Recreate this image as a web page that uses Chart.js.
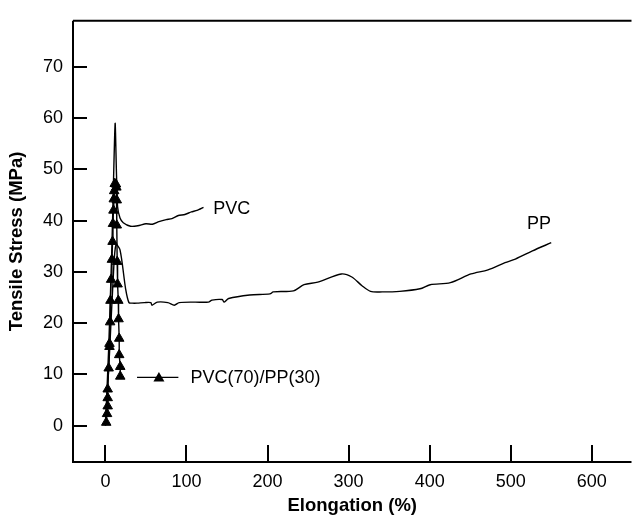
<!DOCTYPE html>
<html>
<head>
<meta charset="utf-8">
<script src="https://cdn.jsdelivr.net/npm/chart.js@4/dist/chart.umd.min.js"></script>
<style>
  html, body { margin: 0; padding: 0; background: #fff; }
  #wrap { width: 638px; height: 515px; }
</style>
</head>
<body>
<div id="wrap"><canvas id="stress"></canvas></div>
<script>
const xTicks = [0, 100, 200, 300, 400, 500, 600];
const yTicks = [0, 10, 20, 30, 40, 50, 60, 70];

// PVC: sharp yield peak then flat draw
const pvcX = [0, 4, 8, 10, 12, 13.5, 15, 18, 22, 31, 40, 50, 58, 66, 75, 82, 90, 98, 106, 113, 121];
const pvcY = [0, 15, 35, 48, 59, 50, 42.7, 40.5, 39.6, 38.9, 39.0, 39.4, 39.3, 39.8, 40.2, 40.4, 41.0, 41.2, 41.7, 42.0, 42.6];

// PP: broad yield then long necking plateau
const ppX = [0, 5, 10, 13, 18, 25, 29, 33, 39, 48, 56, 57.5, 64, 77, 85, 91, 110, 127, 131.5, 144, 146.5, 152, 178, 203, 207, 232, 245, 262, 291, 304, 316.5, 327, 341.5, 363, 388, 400.6, 425.6, 451, 472, 493, 505.7, 526.8, 550];
const ppY = [0, 14, 30, 35.3, 34.3, 26.6, 24.0, 23.9, 23.9, 24.0, 24.0, 23.5, 24.1, 24.0, 23.5, 24.0, 24.1, 24.1, 24.5, 24.6, 24.1, 24.8, 25.5, 25.7, 26.1, 26.3, 27.5, 28.0, 29.6, 29.0, 27.3, 26.2, 26.1, 26.2, 26.7, 27.5, 27.9, 29.6, 30.4, 31.8, 32.5, 34.1, 35.7];

// PVC(70)/PP(30) blend: loading branch then unloading branch
const blendX = [1, 2, 2.8, 2.8, 2.8, 4, 5, 5, 5.8, 6.2, 7, 8, 8.8, 9.3, 9.9, 10.3, 10.8, 11.5, 13, 13.5, 14, 14, 14.5, 15, 15.9, 16.2, 17, 17, 18.3];
const blendY = [0.6, 2.3, 3.8, 5.4, 7.1, 11.2, 15.4, 16.0, 20.2, 24.4, 28.5, 32.4, 35.9, 39.4, 42.0, 44.2, 45.8, 47.2, 47.1, 46.5, 44.0, 39.1, 32.0, 27.6, 24.4, 20.8, 17.0, 13.8, 11.5];
const blendYTail = 9.6;

const curveLabels = ['PVC', 'PP'];
const curveLabelX = [133, 520];
const curveLabelY = [42.3, 39.4];

const legendText = 'PVC(70)/PP(30)';
const legendLineX = [39, 90];
const legendMarkX = 66;
const legendTextX = 105;
const legendY = 9.4;

const fontFamily = "'Liberation Sans', Arial, sans-serif";

const toPoints = (xs, ys) => xs.map((x, i) => ({ x, y: ys[i] }));

const blendPoints = toPoints(blendX, blendY);
blendPoints.push({ x: 18.3, y: blendYTail });

const axisFrame = {
    id: 'axisFrame',
    afterDraw(chart) {
        const { ctx, chartArea } = chart;
        const xs = chart.scales.x;
        const ys = chart.scales.y;
        ctx.save();
        ctx.strokeStyle = '#000';
        ctx.lineWidth = 2;
        ctx.beginPath();
        ctx.moveTo(chartArea.left, chartArea.top);
        ctx.lineTo(chartArea.right, chartArea.top);
        ctx.moveTo(chartArea.left, chartArea.top);
        ctx.lineTo(chartArea.left, chartArea.bottom);
        ctx.lineTo(chartArea.right, chartArea.bottom);
        ctx.stroke();

        // inward tick marks
        ctx.beginPath();
        xTicks.forEach((v) => {
            const px = Math.round(xs.getPixelForValue(v));
            ctx.moveTo(px, chartArea.bottom);
            ctx.lineTo(px, chartArea.bottom - 17);
        });
        yTicks.forEach((v) => {
            const py = Math.round(ys.getPixelForValue(v));
            ctx.moveTo(chartArea.left, py);
            ctx.lineTo(chartArea.left + 14, py);
        });
        ctx.stroke();
        ctx.restore();
    },
};

const curveNotes = {
    id: 'curveNotes',
    afterDatasetsDraw(chart) {
        const { ctx } = chart;
        const xs = chart.scales.x;
        const ys = chart.scales.y;
        ctx.save();
        ctx.fillStyle = '#000';
        ctx.font = `18px ${fontFamily}`;
        ctx.textBaseline = 'middle';
        ctx.textAlign = 'left';
        curveLabels.forEach((t, i) => {
            ctx.fillText(t, xs.getPixelForValue(curveLabelX[i]), ys.getPixelForValue(curveLabelY[i]));
        });

        // inline key for the blend
        const ly = ys.getPixelForValue(legendY);
        ctx.strokeStyle = '#000';
        ctx.lineWidth = 1.3;
        ctx.beginPath();
        ctx.moveTo(xs.getPixelForValue(legendLineX[0]), ly);
        ctx.lineTo(xs.getPixelForValue(legendLineX[1]), ly);
        ctx.stroke();
        const mx = xs.getPixelForValue(legendMarkX);
        ctx.beginPath();
        ctx.moveTo(mx, ly - 5.5);
        ctx.lineTo(mx + 5.5, ly + 4);
        ctx.lineTo(mx - 5.5, ly + 4);
        ctx.closePath();
        ctx.fill();
        ctx.fillText(legendText, xs.getPixelForValue(legendTextX), ly + 1);
        ctx.restore();
    },
};

new Chart(document.getElementById('stress'), {
    type: 'scatter',
    data: {
        datasets: [
            {
                label: 'PVC',
                data: toPoints(pvcX, pvcY),
                showLine: true,
                borderColor: '#000',
                borderWidth: 1.4,
                pointRadius: 0,
                tension: 0.2,
            },
            {
                label: 'PP',
                data: toPoints(ppX, ppY),
                showLine: true,
                borderColor: '#000',
                borderWidth: 1.4,
                pointRadius: 0,
                tension: 0.3,
            },
            {
                label: 'PVC(70)/PP(30)',
                data: blendPoints,
                showLine: true,
                borderColor: '#000',
                borderWidth: 1.4,
                pointStyle: 'triangle',
                pointRadius: 5.5,
                pointBackgroundColor: '#000',
                pointBorderColor: '#000',
                pointBorderWidth: 1,
            },
        ],
    },
    options: {
        responsive: true,
        maintainAspectRatio: false,
        animation: false,
        events: [],
        layout: { padding: { top: 14, right: 0, left: 0, bottom: 0 } },
        plugins: {
            legend: { display: false },
            tooltip: { enabled: false },
        },
        scales: {
            x: {
                type: 'linear',
                min: -40,
                max: 649,
                afterBuildTicks: (s) => { s.ticks = xTicks.map((value) => ({ value })); },
                afterFit: (s) => { s.height = 53; },
                grid: { display: false, drawTicks: false },
                border: { display: false },
                ticks: {
                    color: '#000',
                    font: { family: fontFamily, size: 18 },
                    padding: 9,
                    maxRotation: 0,
                },
                title: {
                    display: true,
                    text: 'Elongation (%)',
                    color: '#000',
                    font: { family: fontFamily, size: 18.5, weight: 'bold', lineHeight: 1 },
                    padding: { top: 0, bottom: 0 },
                },
            },
            y: {
                type: 'linear',
                min: -7.1,
                max: 79,
                afterBuildTicks: (s) => { s.ticks = yTicks.map((value) => ({ value })); },
                afterFit: (s) => { s.width = 73; },
                grid: { display: false, drawTicks: false },
                border: { display: false },
                ticks: {
                    color: '#000',
                    font: { family: fontFamily, size: 18 },
                    padding: 10,
                },
                title: {
                    display: true,
                    text: 'Tensile Stress (MPa)',
                    color: '#000',
                    font: { family: fontFamily, size: 18.5, weight: 'bold', lineHeight: 1 },
                    padding: { top: 8, bottom: 0 },
                },
            },
        },
    },
    plugins: [axisFrame, curveNotes],
});
</script>
</body>
</html>
